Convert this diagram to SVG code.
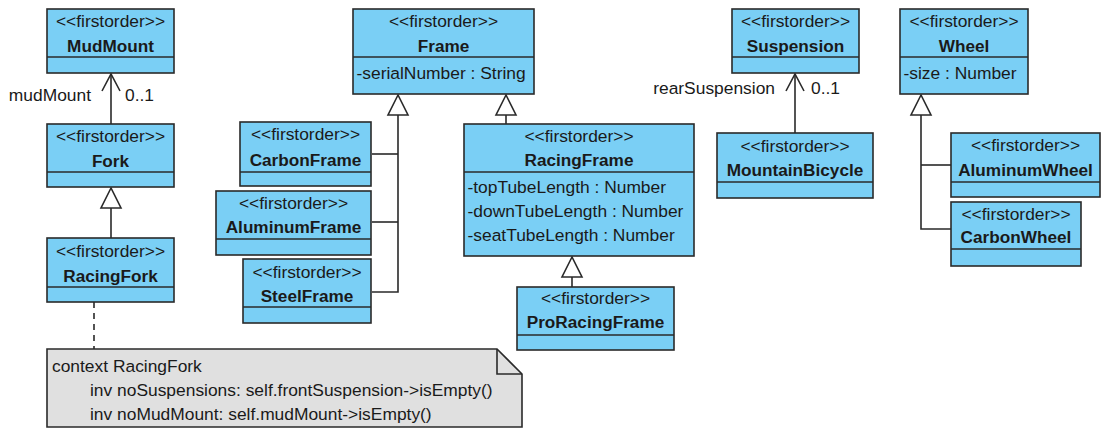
<svg xmlns="http://www.w3.org/2000/svg" width="1101" height="428" viewBox="0 0 1101 428">
<style>
.box{fill:#7ACFF5;stroke:#2a2a2a;stroke-width:1.6}
.div{stroke:#2a2a2a;stroke-width:1.6}
.st{font-family:"Liberation Sans",Arial,sans-serif;font-size:17.4px;fill:#1a1a1a;text-anchor:middle}
.nm{font-family:"Liberation Sans",Arial,sans-serif;font-size:17.2px;font-weight:bold;fill:#1a1a1a;text-anchor:middle}
.at{font-family:"Liberation Sans",Arial,sans-serif;font-size:17.4px;fill:#1a1a1a}
.lbl{font-family:"Liberation Sans",Arial,sans-serif;font-size:17.4px;fill:#1a1a1a}
.ln{fill:none;stroke:#2a2a2a;stroke-width:1.6}
.tri{fill:#ffffff;stroke:#2a2a2a;stroke-width:1.6}
.note{fill:#E0E0E0;stroke:#2a2a2a;stroke-width:1.6}
</style>
<rect width="1101" height="428" fill="#ffffff"/>
<g id="connectors">
  <!-- MudMount association -->
  <line class="ln" x1="111" y1="74" x2="111" y2="124"/>
  <polyline class="ln" points="102,91 111,74 120,91"/>
  <text class="lbl" x="91" y="101" text-anchor="end">mudMount</text>
  <text class="lbl" x="125" y="101">0..1</text>
  <!-- Fork <- RacingFork -->
  <line class="ln" x1="111" y1="208" x2="111" y2="238"/>
  <polygon class="tri" points="111,188 101,208 121,208"/>
  <!-- note link -->
  <line class="ln" x1="94" y1="302" x2="94" y2="349" stroke-dasharray="6,5"/>
  <!-- Frame subclasses left -->
  <polyline class="ln" points="372,154 398,154"/>
  <polyline class="ln" points="372,222 398,222"/>
  <polyline class="ln" points="372,292 398,292 398,115"/>
  <polygon class="tri" points="398,95 388,115 408,115"/>
  <!-- RacingFrame -> Frame -->
  <line class="ln" x1="506" y1="115" x2="506" y2="124"/>
  <polygon class="tri" points="506,95 496,115 516,115"/>
  <!-- ProRacingFrame -> RacingFrame -->
  <line class="ln" x1="572" y1="277" x2="572" y2="287"/>
  <polygon class="tri" points="572,257 562,277 582,277"/>
  <!-- Suspension association -->
  <line class="ln" x1="795" y1="74" x2="795" y2="133"/>
  <polyline class="ln" points="786,91 795,74 804,91"/>
  <text class="lbl" x="775" y="94" text-anchor="end">rearSuspension</text>
  <text class="lbl" x="811" y="94">0..1</text>
  <!-- Wheel subclasses -->
  <polyline class="ln" points="951,165 921,165"/>
  <polyline class="ln" points="951,229 921,229 921,115"/>
  <polygon class="tri" points="921,95 911,115 931,115"/>
</g>
<g id="MudMount">
  <rect class="box" x="47" y="9" width="127" height="64"/>
  <line class="div" x1="47" y1="57" x2="174" y2="57"/>
  <text class="st" x="110.5" y="27">&lt;&lt;firstorder&gt;&gt;</text>
  <text class="nm" x="110.5" y="52">MudMount</text>
</g>
<g id="Fork">
  <rect class="box" x="47" y="124" width="127" height="63"/>
  <line class="div" x1="47" y1="172" x2="174" y2="172"/>
  <text class="st" x="110.5" y="142">&lt;&lt;firstorder&gt;&gt;</text>
  <text class="nm" x="110.5" y="167">Fork</text>
</g>
<g id="RacingFork">
  <rect class="box" x="47" y="238" width="127" height="64"/>
  <line class="div" x1="47" y1="287" x2="174" y2="287"/>
  <text class="st" x="110.5" y="257">&lt;&lt;firstorder&gt;&gt;</text>
  <text class="nm" x="110.5" y="282">RacingFork</text>
</g>
<g id="Note">
  <path class="note" d="M47,349 L497,349 L522,374 L522,427 L47,427 Z"/>
  <polyline class="ln" points="497,349 497,374 522,374"/>
  <text class="lbl" x="52" y="372">context RacingFork</text>
  <text class="lbl" x="90" y="396">inv noSuspensions: self.frontSuspension-&gt;isEmpty()</text>
  <text class="lbl" x="90" y="420">inv noMudMount: self.mudMount-&gt;isEmpty()</text>
</g>
<g id="Frame">
  <rect class="box" x="353" y="9" width="181" height="85"/>
  <line class="div" x1="353" y1="57" x2="534" y2="57"/>
  <text class="st" x="443.5" y="27">&lt;&lt;firstorder&gt;&gt;</text>
  <text class="nm" x="443.5" y="52">Frame</text>
  <text class="at" x="356.5" y="79">-serialNumber : String</text>
</g>
<g id="CarbonFrame">
  <rect class="box" x="240" y="122" width="131" height="64"/>
  <line class="div" x1="240" y1="172" x2="371" y2="172"/>
  <text class="st" x="305.5" y="140">&lt;&lt;firstorder&gt;&gt;</text>
  <text class="nm" x="305.5" y="166">CarbonFrame</text>
</g>
<g id="AluminumFrame">
  <rect class="box" x="216" y="191" width="155" height="64"/>
  <line class="div" x1="216" y1="239" x2="371" y2="239"/>
  <text class="st" x="293.5" y="209">&lt;&lt;firstorder&gt;&gt;</text>
  <text class="nm" x="293.5" y="233">AluminumFrame</text>
</g>
<g id="SteelFrame">
  <rect class="box" x="243" y="259" width="128" height="64"/>
  <line class="div" x1="243" y1="307" x2="371" y2="307"/>
  <text class="st" x="307" y="278">&lt;&lt;firstorder&gt;&gt;</text>
  <text class="nm" x="307" y="302">SteelFrame</text>
</g>
<g id="RacingFrame">
  <rect class="box" x="464" y="124" width="230" height="132"/>
  <line class="div" x1="464" y1="172" x2="694" y2="172"/>
  <text class="st" x="579" y="142">&lt;&lt;firstorder&gt;&gt;</text>
  <text class="nm" x="579" y="166">RacingFrame</text>
  <text class="at" x="467.5" y="193">-topTubeLength : Number</text>
  <text class="at" x="467.5" y="217">-downTubeLength : Number</text>
  <text class="at" x="467.5" y="241">-seatTubeLength : Number</text>
</g>
<g id="ProRacingFrame">
  <rect class="box" x="517" y="287" width="157" height="63"/>
  <line class="div" x1="517" y1="335" x2="674" y2="335"/>
  <text class="st" x="595.5" y="304">&lt;&lt;firstorder&gt;&gt;</text>
  <text class="nm" x="595.5" y="328">ProRacingFrame</text>
</g>
<g id="Suspension">
  <rect class="box" x="732" y="9" width="127" height="64"/>
  <line class="div" x1="732" y1="57" x2="859" y2="57"/>
  <text class="st" x="795.5" y="27">&lt;&lt;firstorder&gt;&gt;</text>
  <text class="nm" x="795.5" y="52">Suspension</text>
</g>
<g id="MountainBicycle">
  <rect class="box" x="717" y="133" width="156" height="65"/>
  <line class="div" x1="717" y1="182" x2="873" y2="182"/>
  <text class="st" x="795" y="152">&lt;&lt;firstorder&gt;&gt;</text>
  <text class="nm" x="795" y="176">MountainBicycle</text>
</g>
<g id="Wheel">
  <rect class="box" x="900" y="9" width="128" height="85"/>
  <line class="div" x1="900" y1="57" x2="1028" y2="57"/>
  <text class="st" x="964" y="27">&lt;&lt;firstorder&gt;&gt;</text>
  <text class="nm" x="964" y="52">Wheel</text>
  <text class="at" x="903.5" y="79">-size : Number</text>
</g>
<g id="AluminumWheel">
  <rect class="box" x="951" y="133" width="149" height="64"/>
  <line class="div" x1="951" y1="182" x2="1100" y2="182"/>
  <text class="st" x="1025.5" y="151">&lt;&lt;firstorder&gt;&gt;</text>
  <text class="nm" x="1025.5" y="176">AluminumWheel</text>
</g>
<g id="CarbonWheel">
  <rect class="box" x="951" y="202" width="130" height="64"/>
  <line class="div" x1="951" y1="249" x2="1081" y2="249"/>
  <text class="st" x="1016" y="220">&lt;&lt;firstorder&gt;&gt;</text>
  <text class="nm" x="1016" y="243">CarbonWheel</text>
</g>
</svg>
